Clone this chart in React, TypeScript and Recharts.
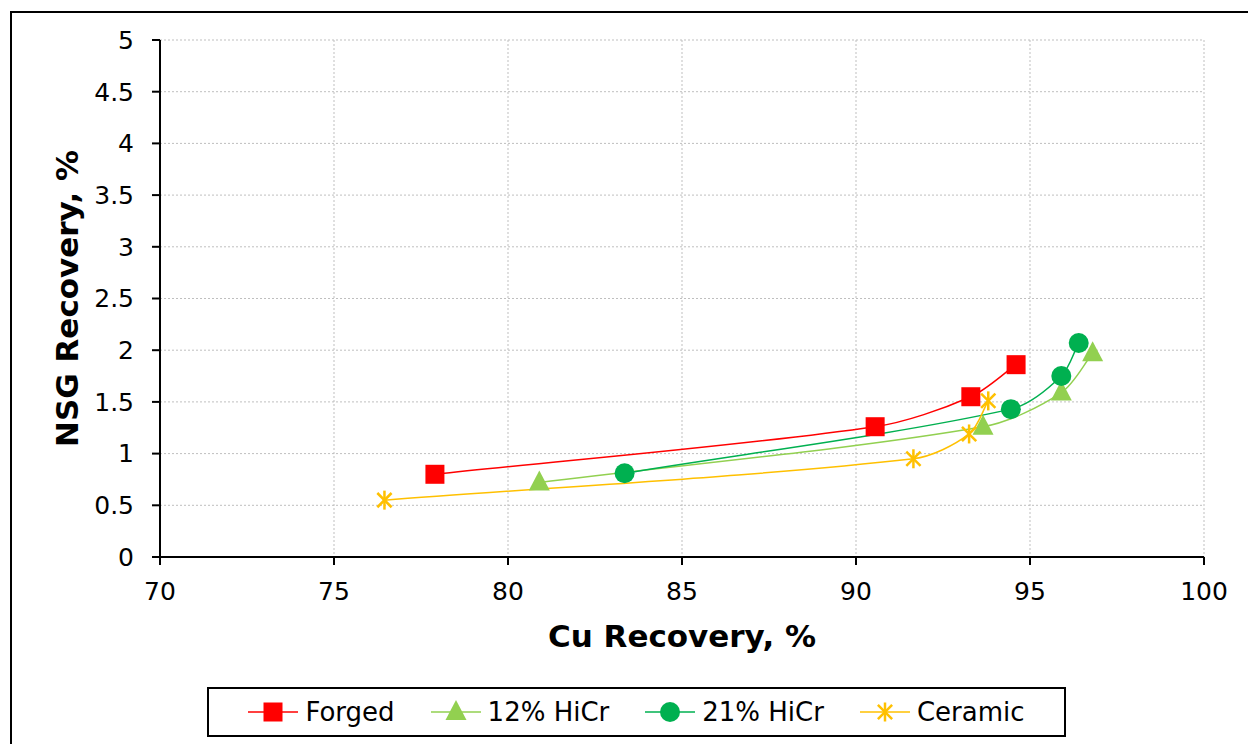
import React from 'react';
import { LineChart, Line, XAxis, YAxis, CartesianGrid } from 'recharts';

const xTicks = [70, 75, 80, 85, 90, 95, 100];
const yTicks = [0, 0.5, 1, 1.5, 2, 2.5, 3, 3.5, 4, 4.5, 5];

const forgedX = [77.9, 90.55, 93.3, 94.6];
const forgedY = [0.8, 1.26, 1.55, 1.86];
const hicr12X = [80.9, 93.65, 95.9, 96.8];
const hicr12Y = [0.72, 1.26, 1.59, 1.97];
const hicr21X = [83.35, 94.45, 95.9, 96.4];
const hicr21Y = [0.81, 1.43, 1.75, 2.07];
const ceramicX = [76.45, 91.65, 93.25, 93.8];
const ceramicY = [0.55, 0.95, 1.19, 1.51];

const FONT = '"DejaVu Sans", Verdana, sans-serif';

const toPoints = (xs: number[], ys: number[]) => xs.map((x, i) => ({ x, y: ys[i] }));

const series = [
  { name: 'Forged', color: '#FF0000', kind: 'square', data: toPoints(forgedX, forgedY) },
  { name: '12% HiCr', color: '#92D050', kind: 'triangle', data: toPoints(hicr12X, hicr12Y) },
  { name: '21% HiCr', color: '#00B050', kind: 'circle', data: toPoints(hicr21X, hicr21Y) },
  { name: 'Ceramic', color: '#FFC000', kind: 'star', data: toPoints(ceramicX, ceramicY) },
];

// smoothed line like a spreadsheet: tangent from the neighbours,
// control arms scaled by each segment's own length so short segments don't overshoot
const smoothCurve = (context: any) => {
  let pts: number[][] = [];
  const K = 0.3;
  const unit = (a: number[], b: number[]) => {
    const dx = b[0] - a[0];
    const dy = b[1] - a[1];
    const len = Math.hypot(dx, dy) || 1;
    return [dx / len, dy / len];
  };
  return {
    areaStart() {},
    areaEnd() {},
    lineStart() {
      pts = [];
    },
    point(x: number, y: number) {
      pts.push([+x, +y]);
    },
    lineEnd() {
      if (!pts.length) return;
      const n = pts.length;
      const tan = pts.map((p, i) => unit(pts[Math.max(0, i - 1)], pts[Math.min(n - 1, i + 1)]));
      context.moveTo(pts[0][0], pts[0][1]);
      for (let i = 0; i < n - 1; i++) {
        const p1 = pts[i];
        const p2 = pts[i + 1];
        const len = Math.hypot(p2[0] - p1[0], p2[1] - p1[1]) * K;
        context.bezierCurveTo(
          p1[0] + tan[i][0] * len,
          p1[1] + tan[i][1] * len,
          p2[0] - tan[i + 1][0] * len,
          p2[1] - tan[i + 1][1] * len,
          p2[0],
          p2[1]
        );
      }
    },
  };
};

const Marker = ({ cx, cy, kind, color }: { cx: number; cy: number; kind: string; color: string }) => {
  if (kind === 'square') {
    return <rect x={cx - 9.5} y={cy - 9.5} width={19} height={19} fill={color} />;
  }
  if (kind === 'triangle') {
    return <polygon points={`${cx},${cy - 12} ${cx + 10.5},${cy + 8} ${cx - 10.5},${cy + 8}`} fill={color} />;
  }
  if (kind === 'circle') {
    return <circle cx={cx} cy={cy} r={10} fill={color} />;
  }
  const r = 9.5;
  const d = r * 0.75;
  return (
    <g stroke={color} strokeWidth={2.5}>
      <line x1={cx} y1={cy - r} x2={cx} y2={cy + r} />
      <line x1={cx - d} y1={cy - d} x2={cx + d} y2={cy + d} />
      <line x1={cx - d} y1={cy + d} x2={cx + d} y2={cy - d} />
    </g>
  );
};

const XLabel = (props: any) => {
  const { x, y, width } = props.viewBox;
  return (
    <text x={x + width / 2} y={y + 90} textAnchor="middle" fontFamily={FONT} fontWeight="bold" fontSize={31} fill="#000">
      Cu Recovery, %
    </text>
  );
};

const YLabel = (props: any) => {
  const { x, y, height } = props.viewBox;
  const cx = x - 22;
  const cy = y + height / 2;
  return (
    <text x={cx} y={cy} transform={`rotate(-90 ${cx} ${cy})`} textAnchor="middle" fontFamily={FONT} fontWeight="bold" fontSize={31} fill="#000">
      NSG Recovery, %
    </text>
  );
};

const tickStyle = { fontFamily: FONT, fontSize: 25, fill: '#000' };

const App = () => {
  return (
    <div style={{ position: 'absolute', left: 0, top: 0, width: 1248, height: 744, overflow: 'hidden', background: '#fff' }}>
      <div style={{ position: 'absolute', left: 10, top: 11, width: 1300, height: 800, border: '2px solid #000' }} />
      <div style={{ position: 'absolute', left: 0, top: 0 }}>
        <LineChart width={1248} height={744} margin={{ top: 40, right: 44, bottom: 157, left: 100 }}>
          <CartesianGrid stroke="#bfbfbf" strokeDasharray="2 2" />
          <XAxis
            dataKey="x"
            type="number"
            domain={[70, 100]}
            ticks={xTicks}
            height={30}
            tick={tickStyle}
            tickSize={8}
            tickMargin={17}
            axisLine={{ stroke: '#000', strokeWidth: 2 }}
            tickLine={{ stroke: '#000', strokeWidth: 2 }}
            label={<XLabel />}
          />
          <YAxis
            type="number"
            domain={[0, 5]}
            ticks={yTicks}
            width={60}
            tick={tickStyle}
            tickSize={8}
            tickMargin={18}
            axisLine={{ stroke: '#000', strokeWidth: 2 }}
            tickLine={{ stroke: '#000', strokeWidth: 2 }}
            label={<YLabel />}
          />
          <XAxis
            xAxisId="top"
            orientation="top"
            type="number"
            domain={[70, 100]}
            height={0}
            tick={false}
            tickLine={false}
            axisLine={{ stroke: '#000', strokeWidth: 2.5 }}
          />
          <YAxis
            yAxisId="right"
            orientation="right"
            type="number"
            domain={[0, 5]}
            width={0}
            tick={false}
            tickLine={false}
            axisLine={{ stroke: '#000', strokeWidth: 2.5 }}
          />
          {series.map((s) => (
            <Line
              key={s.name}
              name={s.name}
              data={s.data}
              dataKey="y"
              type={smoothCurve as any}
              stroke={s.color}
              strokeWidth={1.5}
              isAnimationActive={false}
              dot={(p: any) => <Marker key={`${s.name}-${p.index}`} cx={p.cx} cy={p.cy} kind={s.kind} color={s.color} />}
              activeDot={false}
            />
          ))}
        </LineChart>
      </div>
      <div
        style={{
          position: 'absolute',
          left: 207,
          top: 687,
          width: 859,
          height: 50,
          boxSizing: 'border-box',
          border: '2px solid #000',
          display: 'flex',
          alignItems: 'center',
          justifyContent: 'center',
          gap: 36,
          fontFamily: FONT,
          fontSize: 26,
          color: '#000',
          background: '#fff',
        }}
      >
        {series.map((s) => (
          <div key={s.name} style={{ display: 'flex', alignItems: 'center', gap: 7 }}>
            <svg width={50} height={26}>
              <line x1={0} y1={13} x2={50} y2={13} stroke={s.color} strokeWidth={1.5} />
              <Marker cx={25} cy={13} kind={s.kind} color={s.color} />
            </svg>
            <span>{s.name}</span>
          </div>
        ))}
      </div>
    </div>
  );
};

export default App;
